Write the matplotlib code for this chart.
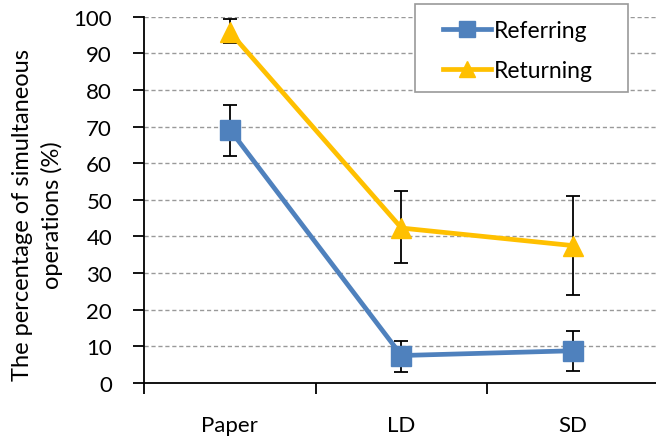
import numpy as np
import matplotlib
matplotlib.use("Agg")
from matplotlib import pyplot as plt
from matplotlib.patches import Rectangle

categories = ["Paper", "LD", "SD"]
referring = [69.2, 7.5, 8.8]
referring_lo = [62.0, 2.9, 3.2]
referring_hi = [75.9, 11.4, 14.1]
returning = [95.8, 42.3, 37.5]
returning_lo = [92.9, 32.8, 24.0]
returning_hi = [99.4, 52.3, 51.0]

plt.rcParams['font.family'] = ['Lato', 'DejaVu Sans']

blue = '#4F81BD'
yellow = '#FFC000'

fig = plt.figure(figsize=(6.56, 4.39), dpi=100)
ax = fig.add_axes([0.2195, 0.1253, 0.785, 0.8344])

x = np.arange(len(categories))
ref = np.array(referring)
ret = np.array(returning)
ref_err = [ref - np.array(referring_lo), np.array(referring_hi) - ref]
ret_err = [ret - np.array(returning_lo), np.array(returning_hi) - ret]

ax.errorbar(x, ref, yerr=ref_err, fmt='none', ecolor='black', elinewidth=1.3, capsize=5, capthick=1.3, zorder=2)
ax.errorbar(x, ret, yerr=ret_err, fmt='none', ecolor='black', elinewidth=1.3, capsize=5, capthick=1.3, zorder=2)
ax.plot(x, ref, color=blue, lw=3.4, marker='s', markersize=14.5, markerfacecolor=blue,
        markeredgecolor=blue, label='Referring', zorder=3)
ax.plot(x, ret, color=yellow, lw=3.4, marker='^', markersize=14.5, markerfacecolor=yellow,
        markeredgecolor=yellow, label='Returning', zorder=3)

ax.set_xlim(-0.5, 2.5)
ax.set_ylim(0, 100)
ax.set_yticks(np.arange(0, 101, 10))
ax.set_xticks([-0.5, 0.5, 1.5, 2.5])
ax.set_xticklabels([])
ax.set_xticks(x, minor=True)
ax.set_xticklabels(categories, minor=True)
ax.tick_params(axis='x', which='minor', length=0, pad=23, labelsize=16)
ax.tick_params(axis='x', which='major', length=8, width=1.3, direction='out')
ax.tick_params(axis='y', length=8, width=1.3, direction='out', labelsize=16, pad=15)

for v in range(10, 101, 10):
    ax.axhline(v, color='#999999', lw=1, ls=(0, (3, 2)), zorder=1)

for s in ['top', 'right']:
    ax.spines[s].set_visible(False)
ax.spines['left'].set_linewidth(1.3)
ax.spines['bottom'].set_linewidth(1.3)

ax.set_ylabel("The percentage of simultaneous\noperations (%)", fontsize=17, linespacing=1.45)
ax.yaxis.set_label_coords(-0.157, 0.461)

# legend frame drawn separately so the handles can sit further in
frame = Rectangle((415 / 656, 1 - 93 / 439), 213 / 656, 88 / 439, transform=fig.transFigure,
                  facecolor='white', edgecolor='#999999', lw=1.2, clip_on=False, zorder=4)
ax.add_patch(frame)
leg = ax.legend(loc='upper left', bbox_to_anchor=(443 / 656, 1 - 21 / 439),
                bbox_transform=fig.transFigure, fontsize=16.5, frameon=False,
                handlelength=2.1, handletextpad=0.1, labelspacing=0.85, borderpad=0,
                borderaxespad=0, markerscale=0.8)
leg.set_zorder(5)

fig.savefig("out.png", dpi=100)
